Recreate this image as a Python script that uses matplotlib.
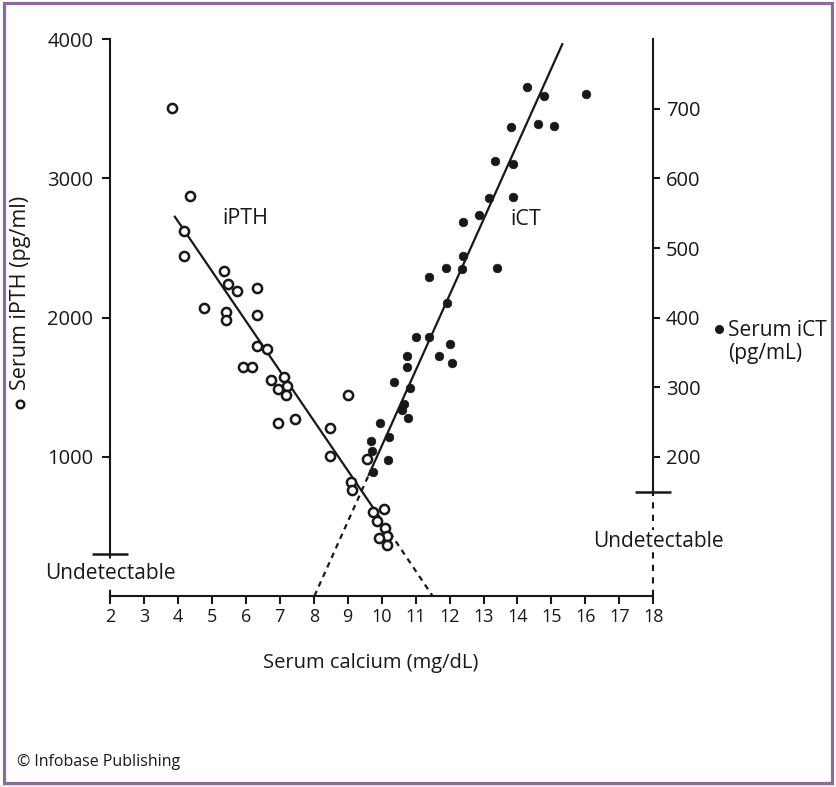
import matplotlib
matplotlib.use("Agg")
import matplotlib.pyplot as plt
from matplotlib.patches import Rectangle
from matplotlib.lines import Line2D

# ---------------- data ----------------
ipth_calcium = [3.82, 4.36, 4.18, 4.19, 5.36, 5.47, 5.74, 6.34, 4.77, 5.42,
                5.42, 6.32, 6.33, 6.63, 5.93, 6.18, 6.73, 7.13, 7.20, 6.94,
                7.19, 6.96, 7.46, 8.48, 9.02, 8.48, 9.56, 9.10, 9.12, 9.75,
                10.06, 9.85, 10.10, 10.17, 9.92, 10.17]
ipth_values = [3504, 2874, 2622, 2443, 2335, 2241, 2193, 2210, 2067, 2043,
               1983, 2019, 1798, 1774, 1647, 1643, 1550, 1573, 1509, 1489,
               1442, 1245, 1269, 1207, 1446, 1003, 982, 821, 759, 601,
               623, 537, 491, 433, 419, 369]

ict_calcium = [14.29, 14.78, 16.03, 13.82, 14.61, 15.07, 13.34, 13.87, 13.16, 13.88,
               12.87, 12.40, 12.40, 11.90, 12.37, 13.40, 11.39, 11.93, 11.00, 11.38,
               12.02, 10.75, 11.68, 10.75, 12.07, 10.36, 10.83, 10.66, 10.59, 10.77,
               9.95, 10.22, 9.69, 9.72, 10.20, 9.75]
ict_values = [732, 719, 721, 674, 679, 675, 625, 621, 572, 573,
              547, 537, 489, 472, 470, 472, 459, 421, 372, 372,
              362, 345, 345, 329, 335, 307, 299, 276, 267, 256,
              248, 229, 223, 209, 196, 178]

# regression lines (solid part, dashed extrapolation)
ipth_fit_x = [3.91, 9.90]
ipth_fit_y = [2725, 580]
ipth_ext_x = [9.90, 11.50]
ipth_ext_y = [580, 0]

ict_fit_x = [9.62, 15.32]
ict_fit_y = [174, 793]
ict_ext_x = [8.02, 9.62]
ict_ext_y = [0, 174]

x_ticks = list(range(2, 19))
ipth_ticks = [1000, 2000, 3000, 4000]
ict_ticks = [200, 300, 400, 500, 600, 700]
IPTH_UNDETECTABLE = 305
ICT_UNDETECTABLE = 150

# ---------------- style ----------------
FONT = ["Open Sans", "DejaVu Sans"]
plt.rcParams["font.family"] = FONT
INK = "#1a1718"
PURPLE = "#8d6a9c"

W, H = 836, 787
fig = plt.figure(figsize=(W / 100, H / 100), dpi=100)
fig.patch.set_facecolor("white")

# frame
fig.patches.append(Rectangle((0, 0), 1, 1 - 784.5 / H, transform=fig.transFigure,
                             facecolor="#efece0", edgecolor="none", zorder=-2))
fig.patches.append(Rectangle((4 / W, 1 - 783 / H), 828 / W, 780 / H,
                             transform=fig.transFigure, facecolor="none",
                             edgecolor=PURPLE, linewidth=2.3, zorder=-1))

ax = fig.add_axes([110 / W, 1 - 596 / H, 543.3 / W, (596 - 39.3) / H])
ax.set_xlim(2, 18)
ax.set_ylim(0, 4000)
ax.patch.set_alpha(0)
ax2 = ax.twinx()
ax2.set_ylim(0, 800)
ax2.patch.set_alpha(0)

for a in (ax, ax2):
    for s in a.spines.values():
        s.set_visible(False)

ax.spines["left"].set_visible(True)
ax.spines["left"].set_bounds(IPTH_UNDETECTABLE, 4000)
ax.spines["bottom"].set_visible(True)
ax2.spines["right"].set_visible(True)
ax2.spines["right"].set_bounds(ICT_UNDETECTABLE, 800)
for s in (ax.spines["left"], ax.spines["bottom"], ax2.spines["right"]):
    s.set_linewidth(1.5)
    s.set_color(INK)

# dashed continuation of the y axes below "undetectable"
ax.plot([2, 2], [0, IPTH_UNDETECTABLE], ls=(0, (3, 3)), lw=1.5, color=INK,
        clip_on=False, zorder=1)
ax2.plot([18, 18], [0, ICT_UNDETECTABLE], ls=(0, (3, 3)), lw=1.5, color=INK,
         clip_on=False, zorder=1)

# ticks
ax.set_xticks(x_ticks)
ax.set_xticklabels([str(t) for t in x_ticks], fontsize=13)
ax.tick_params(axis="x", direction="out", length=6, width=1.5, color=INK,
               pad=3, labelcolor=INK)
ax.set_yticks(ipth_ticks)
ax.set_yticklabels([str(t) for t in ipth_ticks], fontsize=14.5)
ax.tick_params(axis="y", direction="out", length=6, width=1.5, color=INK,
               pad=6, labelcolor=INK)
ax.set_yticks([IPTH_UNDETECTABLE], minor=True)
ax.tick_params(axis="y", which="minor", direction="inout", length=26, width=1.8,
               color=INK, labelleft=False)

ax2.set_yticks(ict_ticks)
ax2.set_yticklabels([str(t) for t in ict_ticks], fontsize=14.5)
ax2.tick_params(axis="y", direction="out", length=5, width=1.5, color=INK,
                pad=4, labelcolor=INK)
ax2.set_yticks([ICT_UNDETECTABLE], minor=True)
ax2.tick_params(axis="y", which="minor", direction="inout", length=26, width=1.8,
                color=INK, labelright=False)

# regression lines
ax.plot(ipth_fit_x, ipth_fit_y, color=INK, lw=1.6, zorder=2)
ax.plot(ipth_ext_x, ipth_ext_y, color=INK, lw=1.6, ls=(0, (2.5, 2.2)), zorder=2)
ax2.plot(ict_fit_x, ict_fit_y, color=INK, lw=1.6, zorder=2)
ax2.plot(ict_ext_x, ict_ext_y, color=INK, lw=1.6, ls=(0, (2.5, 2.2)), zorder=2)

# points
ax.plot(ipth_calcium, ipth_values, ls="none", marker="o", ms=6.6,
        mfc="white", mec=INK, mew=1.8, zorder=3)
ax2.plot(ict_calcium, ict_values, ls="none", marker="o", ms=6.2,
         mfc=INK, mec=INK, mew=0.5, zorder=3)

# in-plot labels
ax.text(6.0, 2716, "iPTH", fontsize=15.5, color=INK, ha="center", va="center")
ax.text(14.24, 2708, "iCT", fontsize=15.5, color=INK, ha="center", va="center")
ax.text(2.0, 165, "Undetectable", fontsize=15, color=INK, ha="center",
        va="center", zorder=4,
        bbox=dict(facecolor="white", edgecolor="none", pad=0.5))
ax2.text(18.15, 79, "Undetectable", fontsize=15, color=INK, ha="center",
         va="center", zorder=4,
         bbox=dict(facecolor="white", edgecolor="none", pad=0.5))

# axis labels
fig.text(370.7 / W, 1 - 663 / H, "Serum calcium (mg/dL)",
         fontsize=14.5, color=INK, ha="center", va="center")
fig.text(21 / W, 1 - 293 / H, "Serum iPTH (pg/ml)", fontsize=15.5, color=INK,
         rotation=90, ha="center", va="center")
fig.add_artist(Line2D([20 / W], [1 - 404 / H], transform=fig.transFigure,
                      marker="o", ms=5.5, mfc="white", mec=INK, mew=1.7))
fig.text(728 / W, 1 - 330 / H, "Serum iCT", fontsize=15, color=INK,
         ha="left", va="center")
fig.text(728 / W, 1 - 353 / H, "(pg/mL)", fontsize=15, color=INK,
         ha="left", va="center")
fig.add_artist(Line2D([719 / W], [1 - 329 / H], transform=fig.transFigure,
                      marker="o", ms=5.5, mfc=INK, mec=INK))

fig.text(17 / W, 1 - 762 / H, "\u00a9 Infobase Publishing",
         fontsize=11.5, color=INK, ha="left", va="center")

fig.savefig("out.png", dpi=100)
